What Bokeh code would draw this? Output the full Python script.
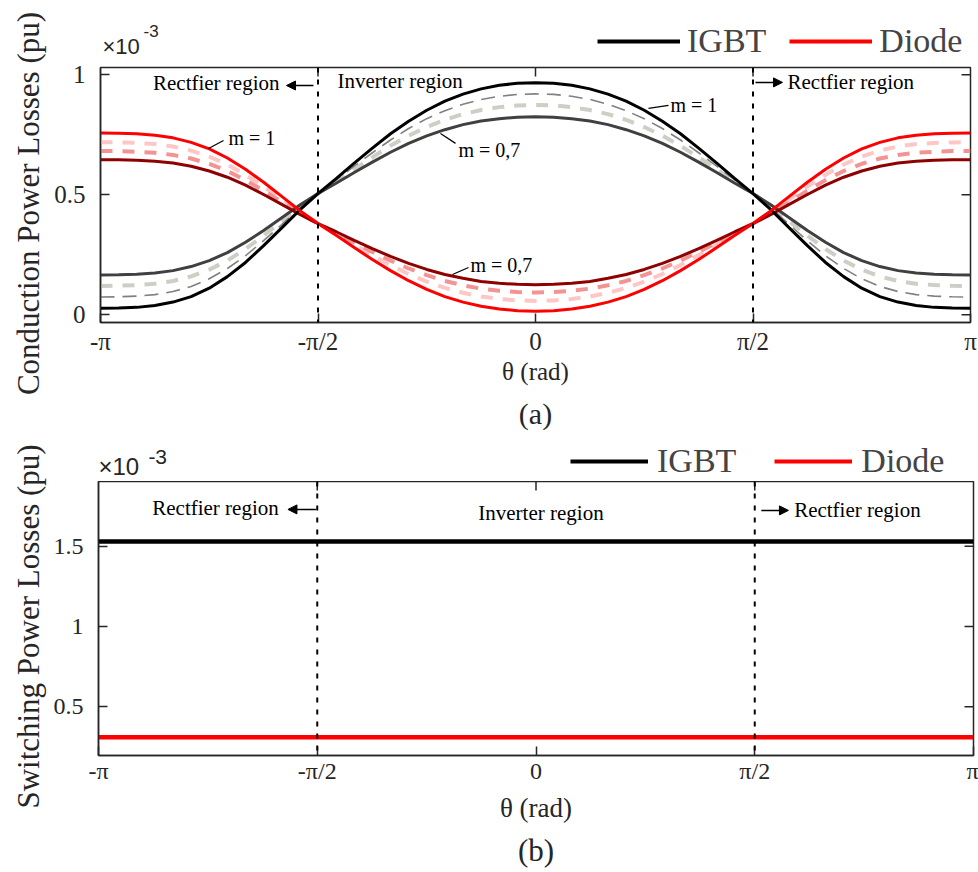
import numpy as np
from bokeh.plotting import figure
from bokeh.layouts import column, row
from bokeh.models import (Span, Label, Arrow, NormalHead, Legend, LegendItem,
                          FixedTicker, Range1d, Title)
from bokeh.embed import file_html
from bokeh.resources import INLINE

# ---------------- data ----------------
theta_deg = [-180, -172.5, -165, -157.5, -150, -142.5, -135, -127.5, -120, -112.5, -105, -97.5,
             -90, -82.5, -75, -67.5, -60, -52.5, -45, -37.5, -30, -22.5, -15, -7.5, 0,
             7.5, 15, 22.5, 30, 37.5, 45, 52.5, 60, 67.5, 75, 82.5, 90,
             97.5, 105, 112.5, 120, 127.5, 135, 142.5, 150, 157.5, 165, 172.5, 180]

# conduction losses (x1e-3 pu)
igbt_m10 = [0.027, 0.028, 0.031, 0.039, 0.053, 0.076, 0.111, 0.159, 0.218, 0.288, 0.362, 0.437,
            0.505, 0.567, 0.632, 0.694, 0.754, 0.806, 0.852, 0.890, 0.919, 0.941, 0.956, 0.964, 0.967,
            0.964, 0.956, 0.941, 0.919, 0.890, 0.852, 0.806, 0.754, 0.694, 0.632, 0.567, 0.505,
            0.437, 0.362, 0.288, 0.218, 0.159, 0.111, 0.076, 0.053, 0.039, 0.031, 0.028, 0.027]
igbt_m09 = [0.074, 0.075, 0.078, 0.084, 0.097, 0.118, 0.150, 0.193, 0.246, 0.309, 0.376, 0.444,
            0.505, 0.561, 0.619, 0.675, 0.728, 0.776, 0.817, 0.850, 0.877, 0.897, 0.910, 0.918, 0.920,
            0.918, 0.910, 0.897, 0.877, 0.850, 0.817, 0.776, 0.728, 0.675, 0.619, 0.561, 0.505,
            0.444, 0.376, 0.309, 0.246, 0.193, 0.150, 0.118, 0.097, 0.084, 0.078, 0.075, 0.074]
igbt_m08 = [0.120, 0.121, 0.124, 0.129, 0.141, 0.160, 0.188, 0.226, 0.274, 0.330, 0.390, 0.450,
            0.505, 0.555, 0.606, 0.656, 0.704, 0.746, 0.782, 0.812, 0.836, 0.853, 0.865, 0.872, 0.874,
            0.872, 0.865, 0.853, 0.836, 0.812, 0.782, 0.746, 0.704, 0.656, 0.606, 0.555, 0.505,
            0.450, 0.390, 0.330, 0.274, 0.226, 0.188, 0.160, 0.141, 0.129, 0.124, 0.121, 0.120]
igbt_m07 = [0.166, 0.167, 0.169, 0.174, 0.184, 0.201, 0.226, 0.259, 0.302, 0.351, 0.404, 0.457,
            0.505, 0.548, 0.593, 0.636, 0.677, 0.714, 0.745, 0.771, 0.792, 0.807, 0.817, 0.823, 0.825,
            0.823, 0.817, 0.807, 0.792, 0.771, 0.745, 0.714, 0.677, 0.636, 0.593, 0.548, 0.505,
            0.457, 0.404, 0.351, 0.302, 0.259, 0.226, 0.201, 0.184, 0.174, 0.169, 0.167, 0.166]
diode_m10 = [0.757, 0.756, 0.754, 0.748, 0.737, 0.718, 0.691, 0.653, 0.606, 0.552, 0.493, 0.434,
             0.380, 0.331, 0.280, 0.230, 0.184, 0.142, 0.106, 0.076, 0.053, 0.036, 0.024, 0.017, 0.015,
             0.017, 0.024, 0.036, 0.053, 0.076, 0.106, 0.142, 0.184, 0.230, 0.280, 0.331, 0.380,
             0.434, 0.493, 0.552, 0.606, 0.653, 0.691, 0.718, 0.737, 0.748, 0.754, 0.756, 0.757]
diode_m09 = [0.719, 0.718, 0.716, 0.711, 0.701, 0.684, 0.659, 0.626, 0.583, 0.534, 0.481, 0.428,
             0.380, 0.337, 0.292, 0.248, 0.207, 0.170, 0.138, 0.112, 0.092, 0.076, 0.066, 0.060, 0.058,
             0.060, 0.066, 0.076, 0.092, 0.112, 0.138, 0.170, 0.207, 0.248, 0.292, 0.337, 0.380,
             0.428, 0.481, 0.534, 0.583, 0.626, 0.659, 0.684, 0.701, 0.711, 0.716, 0.718, 0.719]
diode_m08 = [0.682, 0.682, 0.679, 0.675, 0.666, 0.651, 0.629, 0.599, 0.561, 0.517, 0.470, 0.423,
             0.380, 0.341, 0.301, 0.262, 0.226, 0.193, 0.165, 0.141, 0.123, 0.109, 0.100, 0.095, 0.093,
             0.095, 0.100, 0.109, 0.123, 0.141, 0.165, 0.193, 0.226, 0.262, 0.301, 0.341, 0.380,
             0.423, 0.470, 0.517, 0.561, 0.599, 0.629, 0.651, 0.666, 0.675, 0.679, 0.682, 0.682]
diode_m07 = [0.646, 0.646, 0.644, 0.640, 0.632, 0.619, 0.599, 0.573, 0.540, 0.501, 0.460, 0.418,
             0.380, 0.346, 0.310, 0.276, 0.243, 0.214, 0.189, 0.168, 0.152, 0.139, 0.131, 0.127, 0.125,
             0.127, 0.131, 0.139, 0.152, 0.168, 0.189, 0.214, 0.243, 0.276, 0.310, 0.346, 0.380,
             0.418, 0.460, 0.501, 0.540, 0.573, 0.599, 0.619, 0.632, 0.640, 0.644, 0.646, 0.646]

# switching losses (x1e-3 pu)
sw_theta_deg = [-180, 180]
sw_igbt = [1.53, 1.53]
sw_diode = [0.31, 0.31]

x_ticks = [-1, -0.5, 0, 0.5, 1]          # in units of pi
x_tick_labels = ["-π", "-π/2", "0", "π/2", "π"]
top_yticks = [0, 0.5, 1]
top_ytick_labels = ["0", "0.5", "1"]
bot_yticks = [0.5, 1, 1.5]
bot_ytick_labels = ["0.5", "1", "1.5"]

SERIF = "Liberation Serif"
SANS = "Liberation Sans"
AX = "#262626"
TICK = 9  # px
LEFT = 50  # width of the strip that carries the y-axis title

x = np.array(theta_deg) / 180.0
xs = np.array(sw_theta_deg) / 180.0


def style(p, yticks, ylabels, fw, fh, tick_size, xlab_size):
    p.xgrid.visible = False
    p.ygrid.visible = False
    p.outline_line_color = AX
    p.outline_line_width = 1.5
    p.xaxis.ticker = FixedTicker(ticks=x_ticks)
    p.xaxis.major_label_overrides = dict(zip(x_ticks, x_tick_labels))
    p.yaxis.ticker = FixedTicker(ticks=yticks)
    p.yaxis.major_label_overrides = dict(zip(yticks, ylabels))
    for ax in (p.xaxis[0], p.yaxis[0]):
        ax.axis_line_color = AX
        ax.axis_line_width = 1.5
        ax.major_tick_in = TICK
        ax.major_tick_out = 0
        ax.major_tick_line_color = AX
        ax.major_tick_line_width = 1.5
        ax.minor_tick_line_color = None
        ax.major_label_text_font = SERIF
        ax.major_label_text_font_size = tick_size
        ax.major_label_text_color = AX
        ax.axis_label_text_font = SERIF
        ax.axis_label_text_font_style = "normal"
        ax.axis_label_text_color = AX
    p.xaxis.axis_label = "θ (rad)"
    p.xaxis.axis_label_text_font_size = xlab_size
    p.yaxis.major_label_standoff = 15
    # mirrored ticks on the top and right edges of the box
    xr, yr = p.x_range, p.y_range
    dy = TICK * (yr.end - yr.start) / fh
    dx = TICK * (xr.end - xr.start) / fw
    inner_x = x_ticks[1:-1]
    p.segment(x0=inner_x, y0=[yr.end] * len(inner_x), x1=inner_x, y1=[yr.end - dy] * len(inner_x),
              line_color=AX, line_width=1.5)
    p.segment(x0=[xr.end] * len(yticks), y0=yticks, x1=[xr.end - dx] * len(yticks), y1=yticks,
              line_color=AX, line_width=1.5)
    for loc in (-0.5, 0.5):
        p.add_layout(Span(location=loc, dimension="height", line_color="black",
                          line_width=2, line_dash="5 7"))


def txt(p, x, y, s, size, font=SERIF, align="left", baseline="middle", color="black", angle=0):
    p.add_layout(Label(x=x, y=y, text=s, text_font=font, text_font_size=size, angle=angle,
                       text_align=align, text_baseline=baseline, text_color=color))


def arrow(p, x0, y0, x1, y1):
    p.add_layout(Arrow(end=NormalHead(size=9, fill_color="black", line_color="black"),
                       x_start=x0, y_start=y0, x_end=x1, y_end=y1,
                       line_color="black", line_width=1.5))


def strip(width, height, left, right, xr=(-1, 1)):
    s = figure(width=width, height=height, x_range=Range1d(*xr), y_range=Range1d(0, height),
               output_backend="svg", toolbar_location=None, title=None,
               x_axis_location=None, y_axis_location=None, outline_line_color=None,
               min_border_left=left, min_border_right=right, min_border_top=0, min_border_bottom=0)
    s.xgrid.visible = False
    s.ygrid.visible = False
    return s


def legend(s, loc, gw, standoff, spacing):
    g1 = s.line([-3, -2], [-50, -50], line_color="black", line_width=4)
    g2 = s.line([-3, -2], [-50, -50], line_color="#ff0000", line_width=4)
    s.add_layout(Legend(items=[LegendItem(label="IGBT", renderers=[g1]),
                               LegendItem(label="Diode", renderers=[g2])],
                        location=loc, orientation="horizontal",
                        label_text_font=SERIF, label_text_font_size="34px",
                        glyph_width=gw, glyph_height=20, label_standoff=standoff, spacing=spacing,
                        padding=0, margin=0, border_line_alpha=0, background_fill_alpha=0))


# ---------------- panel (a) ----------------
lab1 = strip(LEFT, 440, 0, 0, xr=(0, LEFT))
txt(lab1, 28, 440 - 203, "Conduction Power Losses (pu)", "31px", align="center",
    color=AX, angle=np.pi / 2)

h1 = strip(978 - LEFT, 60, 100 - LEFT, 8)
legend(h1, (497, 0), 83, 7, 23)
txt(h1, -0.9954, 14, "×10", "22px", font=SANS, color=AX)
txt(h1, -0.901, 30, "-3", "17px", font=SANS, color=AX)

p1 = figure(width=978 - LEFT, height=380, x_range=Range1d(-1, 1), y_range=Range1d(-0.032, 1.030),
            output_backend="svg", toolbar_location=None, title=None,
            min_border_left=100 - LEFT, min_border_right=8, min_border_top=7, min_border_bottom=118)
style(p1, top_yticks, top_ytick_labels, 870, 255, "25px", "25px")
p1.xaxis.major_label_standoff = 5
p1.xaxis.axis_label_standoff = 0

p1.line(x, igbt_m08, line_color="#d0cdc5", line_width=4, line_dash="12 10")
p1.line(x, igbt_m09, line_color="#808080", line_width=1.6, line_dash="14 8")
p1.line(x, diode_m09, line_color="#ffc6c6", line_width=4, line_dash="12 10")
p1.line(x, diode_m08, line_color="#f39494", line_width=4, line_dash="12 10")
p1.line(x, igbt_m07, line_color="#404040", line_width=3)
p1.line(x, diode_m07, line_color="#8f0000", line_width=3)
p1.line(x, igbt_m10, line_color="black", line_width=3)
p1.line(x, diode_m10, line_color="#ff0000", line_width=3)

txt(p1, -0.5885, 0.964, "Rectfier region", "21px", align="right")
arrow(p1, -0.5103, 0.955, -0.5724, 0.955)
txt(p1, -0.4552, 0.972, "Inverter region", "21px")
arrow(p1, 0.5057, 0.968, 0.5678, 0.968)
txt(p1, 0.5793, 0.968, "Rectfier region", "21px")

txt(p1, -0.7057, 0.735, "m = 1", "20px")
txt(p1, -0.177, 0.685, "m = 0,7", "20px")
txt(p1, -0.1494, 0.2055, "m = 0,7", "20px")
txt(p1, 0.3103, 0.872, "m = 1", "20px")
p1.segment(x0=[-0.7517, -0.2184, -0.1908, 0.2598], y0=[0.693, 0.755, 0.168, 0.860],
           x1=[-0.7172, -0.1839, -0.1540, 0.3057], y1=[0.726, 0.714, 0.197, 0.872],
           line_color="black", line_width=1.2)
p1.add_layout(Title(text="(a)", align="center", text_font=SERIF, text_font_size="30px",
                    text_font_style="normal", text_color=AX, standoff=14), "below")

# ---------------- panel (b) ----------------
lab2 = strip(LEFT, 432, 0, 0, xr=(0, LEFT))
txt(lab2, 28, 432 - 186, "Switching Power Losses (pu)", "31px", align="center",
    color=AX, angle=np.pi / 2)

h2 = strip(978 - LEFT, 41, 98 - LEFT, 5)
legend(h2, (472, 1), 78, 9, 38)
txt(h2, -1.0, 15, "×10", "24px", font=SANS, color=AX)
txt(h2, -0.886, 25, "-3", "21px", font=SANS, color=AX)

p2 = figure(width=978 - LEFT, height=391, x_range=Range1d(-1, 1), y_range=Range1d(0.196, 1.904),
            output_backend="svg", toolbar_location=None, title=None,
            min_border_left=98 - LEFT, min_border_right=5, min_border_top=0, min_border_bottom=116)
style(p2, bot_yticks, bot_ytick_labels, 875, 275, "24px", "27px")
p2.xaxis.major_label_standoff = 2
p2.xaxis.axis_label_standoff = 6

p2.line(xs, sw_igbt, line_color="black", line_width=4.5)
p2.line(xs, sw_diode, line_color="#ff0000", line_width=4.5)

txt(p2, -0.588, 1.736, "Rectfier region", "21px", align="right")
arrow(p2, -0.503, 1.730, -0.567, 1.730)
txt(p2, 0.0114, 1.705, "Inverter region", "21px", align="center")
arrow(p2, 0.515, 1.724, 0.577, 1.724)
txt(p2, 0.590, 1.724, "Rectfier region", "21px")
p2.add_layout(Title(text="(b)", align="center", text_font=SERIF, text_font_size="31px",
                    text_font_style="normal", text_color=AX, standoff=10), "below")

layout = column(row(lab1, column(h1, p1, spacing=0), spacing=0),
                row(lab2, column(h2, p2, spacing=0), spacing=0), spacing=0)
open("out.html", "w").write(file_html(layout, INLINE))
